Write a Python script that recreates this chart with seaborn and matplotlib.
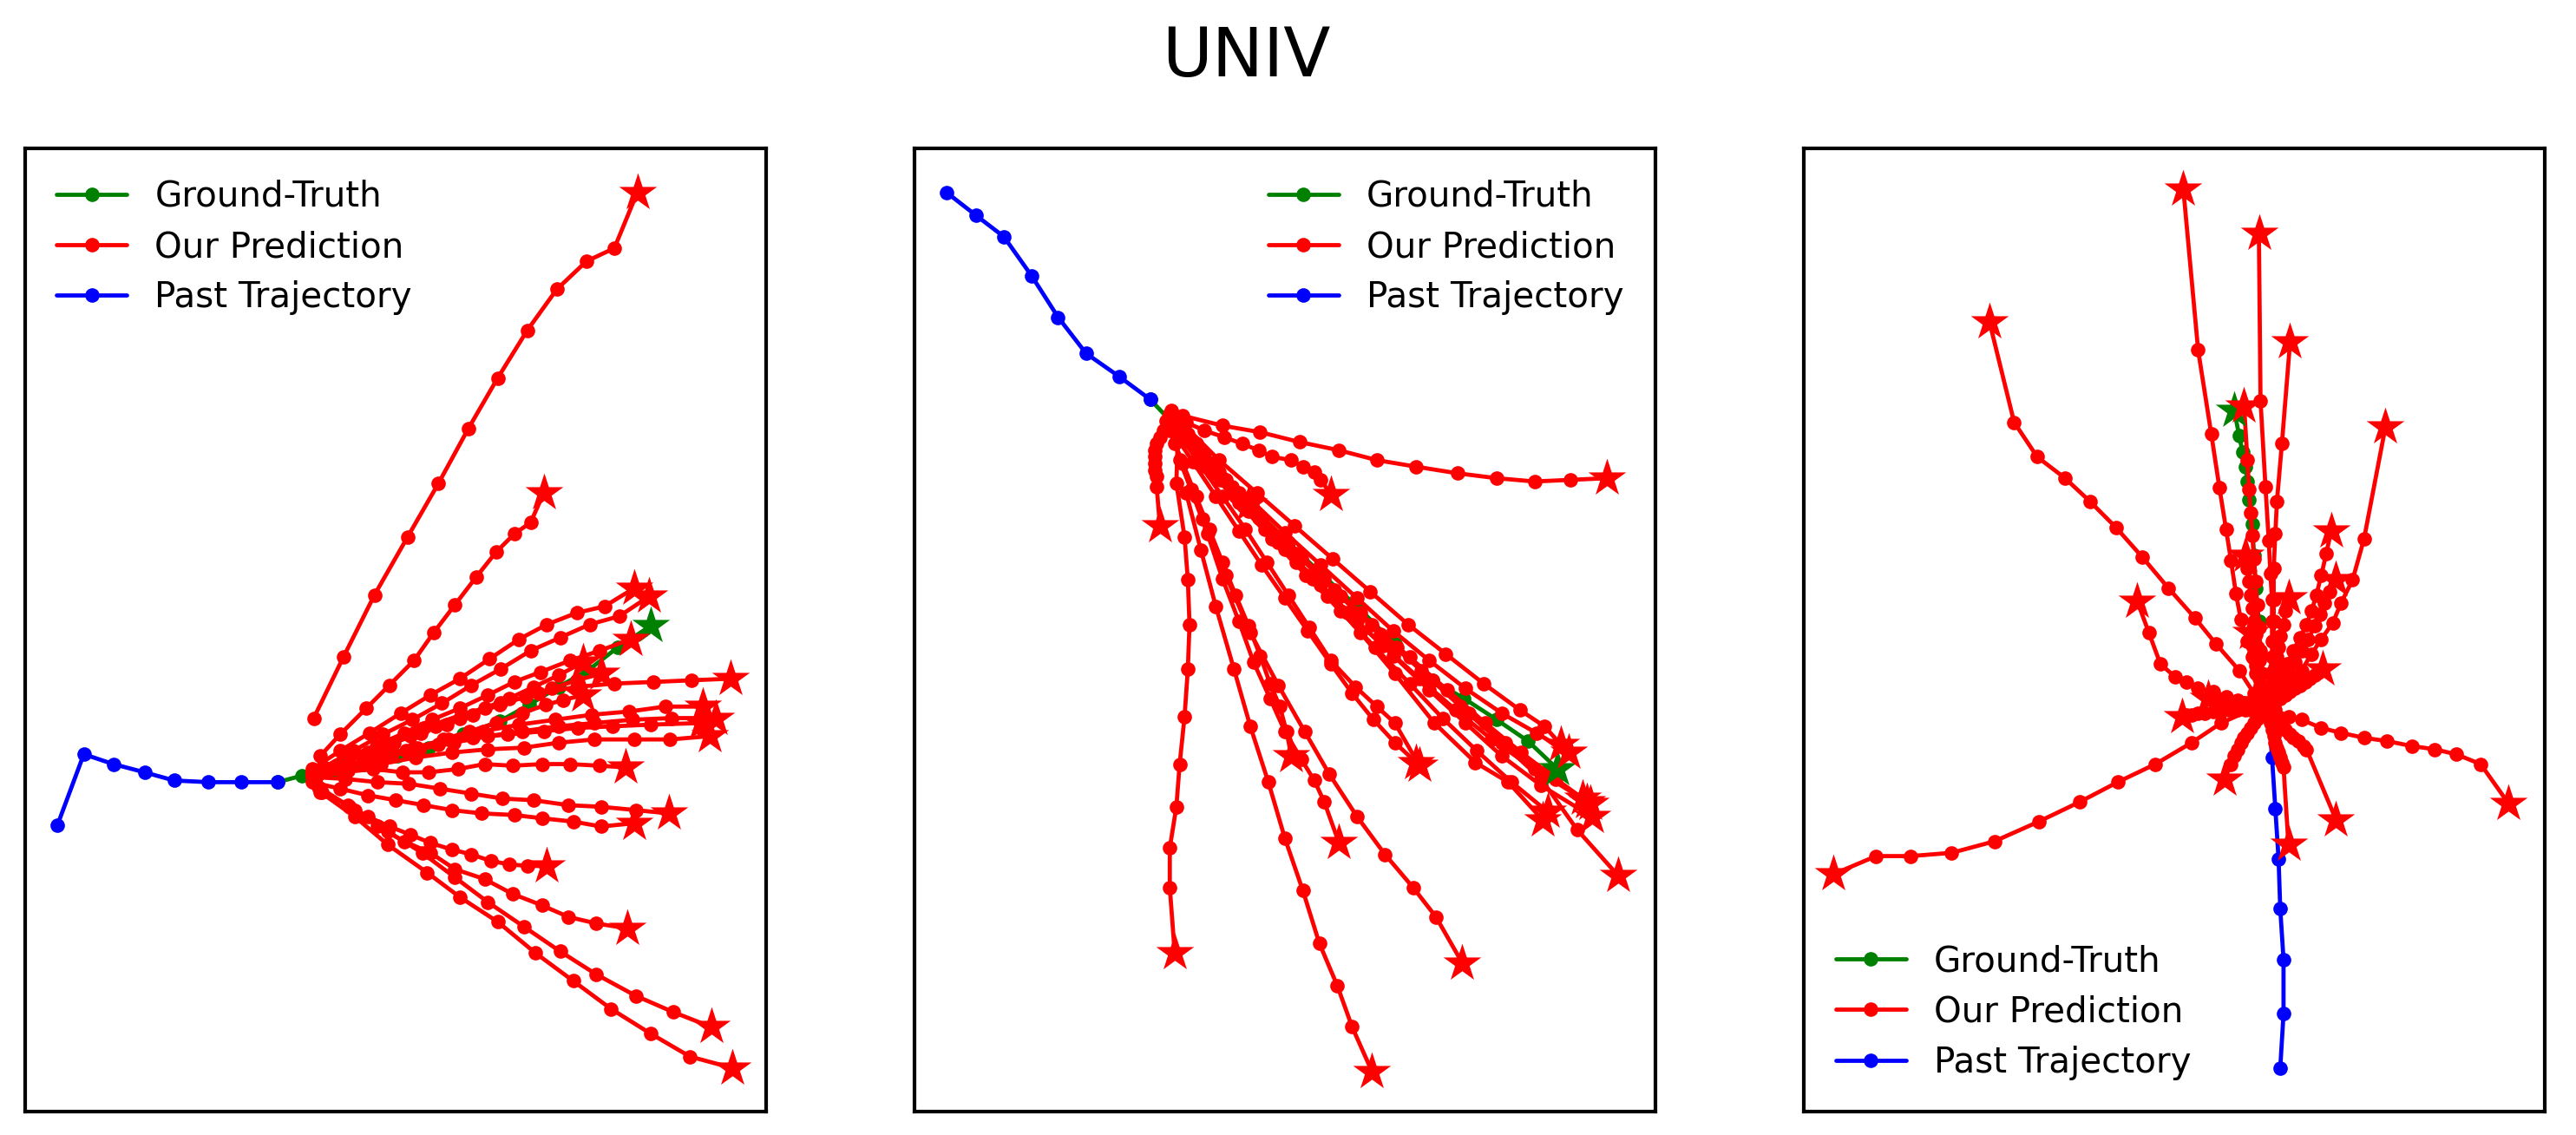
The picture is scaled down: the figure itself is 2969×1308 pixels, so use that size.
import matplotlib
matplotlib.use("Agg")
import matplotlib.pyplot as plt
import seaborn as sns
import pandas as pd
from matplotlib.lines import Line2D

# ---------------- data (image-pixel units, y grows downward) ----------------
P1_PAST = [(35,502),(51,459),(69,465),(88,470),(106,475),(127,476),(147,476),(169,476)]
P1_GT = [(169,476),(184,472),(203,469),(222,465),(242,460),(261,455),(282,447),
         (304,439),(322,429),(340,418),(358,408),(376,394),(396,381)]
P1_PRED = [
    [(191,437),(209,400),(228,362),(248,327),(267,294),(285,261),(303,230),(321,201),(339,176),(357,159),(374,151),(388,117)],
    [(195,460),(207,447),(223,431),(237,417),(252,402),(264,385),(277,368),(290,351),(302,336),(313,325),(323,318),(331,300)],
    [(190,468),(207,457),(225,446),(244,434),(262,423),(280,413),(298,401),(316,389),(333,380),(351,373),(368,369),(386,358)],
    [(197,467),(215,457),(233,447),(251,438),(269,428),(287,417),(305,407),(323,396),(341,388),(359,380),(377,375),(395,363)],
    [(195,470),(212,462),(229,454),(246,446),(263,438),(280,431),(297,423),(313,415),(329,409),(347,402),(365,396),(384,389)],
    [(190,472),(205,466),(220,460),(235,454),(250,448),(265,442),(280,437),(295,431),(310,425),(325,418),(340,411),(355,403)],
    [(190,472),(206,468),(222,464),(238,460),(254,455),(270,450),(286,445),(302,440),(318,434),(332,429),(343,426),(355,423)],
    [(190,470),(212,462),(235,452),(258,443),(281,435),(305,428),(328,422),(351,418),(374,416),(398,415),(421,414),(445,413)],
    [(190,472),(210,466),(231,460),(252,455),(273,450),(294,445),(316,441),(338,438),(360,435),(383,433),(405,430),(428,430)],
    [(192,473),(212,469),(232,465),(253,461),(275,458),(297,456),(319,455),(340,452),(362,450),(386,450),(408,450),(432,448)],
    [(190,472),(208,467),(227,462),(247,457),(267,453),(288,449),(309,447),(331,445),(352,443),(373,442),(396,441),(427,440)],
    [(192,471),(213,466),(234,461),(255,456),(276,452),(297,448),(318,445),(340,442),(362,440),(385,438),(409,437),(436,437)],
    [(192,472),(209,470),(227,468),(245,470),(261,470),(279,468),(295,465),(312,466),(330,465),(347,465),(365,466),(381,467)],
    [(192,473),(210,474),(230,476),(249,477),(268,480),(287,483),(306,486),(325,487),(346,490),(366,491),(387,493),(407,495)],
    [(190,476),(207,480),(224,484),(241,487),(258,490),(275,493),(293,495),(313,496),(330,498),(349,500),(366,503),(386,501)],
    [(196,482),(212,490),(224,497),(237,503),(250,508),(262,513),(275,517),(287,520),(299,524),(310,526),(321,527),(333,527)],
    [(194,479),(213,491),(230,503),(246,512),(262,519),(277,529),(295,535),(312,544),(330,551),(346,558),(363,562),(382,565)],
    [(195,480),(216,493),(236,506),(257,519),(277,534),(297,549),(319,564),(341,579),(363,593),(387,606),(410,616),(433,625)],
    [(195,482),(216,497),(236,514),(260,531),(280,546),(303,561),(326,580),(349,597),(372,614),(396,629),(420,643),(446,650)],
    [(192,470),(208,464),(224,458),(240,452),(256,446),(272,441),(288,435),(304,429),(320,424),(336,419),(351,414),(366,410)],
]

P2_PAST = [(576,117),(594,131),(611,144),(628,168),(644,193),(661,215),(681,229),(700,243)]
P2_GT = [(700,243),(718,262),(736,283),(759,305),(781,327),(804,349),(827,370),
         (849,392),(872,414),(891,425),(911,438),(930,451),(948,468)]
P2_PRED = [
    [(720,253),(744,259),(767,263),(791,269),(815,274),(838,280),(862,284),(887,288),(911,291),(934,293),(956,292),(978,291)],
    [(712,252),(722,257),(733,262),(745,266),(756,270),(766,274),(774,278),(786,280),(793,284),(800,287),(804,292),(810,301)],
    [(713,250),(710,256),(708,262),(706,266),(704,270),(703,274),(703,278),(703,282),(703,286),(704,290),(704,296),(706,320)],
    [(717,262),(716,294),(721,327),(723,353),(724,380),(723,407),(721,436),(718,465),(716,491),(712,516),(712,540),(715,580)],
    [(722,300),(731,335),(740,369),(751,407),(761,442),(772,476),(782,510),(793,542),(803,574),(814,600),(823,625),(835,652)],
    [(718,280),(732,316),(746,350),(761,385),(778,417),(794,445),(809,471),(826,497),(843,520),(860,540),(874,558),(890,586)],
    [(715,270),(725,298),(735,325),(744,352),(754,378),(763,403),(773,425),(782,445),(792,462),(800,475),(806,488),(815,513)],
    [(712,262),(720,282),(728,302),(736,322),(744,342),(752,362),(760,381),(767,399),(773,416),(779,430),(783,445),(786,460)],
    [(716,262),(730,282),(744,302),(758,322),(771,342),(784,362),(797,382),(810,402),(825,418),(838,430),(849,440),(864,466)],
    [(716,262),(734,282),(752,302),(770,322),(789,342),(808,363),(828,385),(849,410),(873,440),(898,464),(918,476),(939,499)],
    [(720,265),(744,291),(768,316),(792,340),(816,363),(840,386),(865,408),(889,430),(914,452),(938,474),(960,505),(985,533)],
    [(720,258),(742,280),(765,300),(788,320),(811,340),(834,360),(857,380),(880,398),(903,416),(925,432),(940,442),(950,453)],
    [(718,262),(740,285),(762,308),(784,330),(806,352),(828,373),(850,394),(872,414),(894,434),(916,452),(940,470),(968,489)],
    [(716,264),(738,288),(760,311),(782,334),(804,356),(826,378),(848,399),(870,420),(892,440),(914,460),(938,478),(969,497)],
    [(713,252),(718,258),(723,264),(728,270),(733,276),(738,282),(742,287),(746,292),(750,296),(754,300),(757,303),(760,307)],
    [(716,260),(738,282),(760,303),(782,324),(804,344),(826,364),(848,384),(870,402),(892,419),(914,434),(935,446),(955,458)],
    [(714,262),(734,284),(754,306),(774,328),(795,350),(816,372),(837,394),(858,416),(878,437),(899,457),(920,476),(942,494)],
    [(715,262),(736,285),(757,308),(778,330),(799,352),(820,373),(842,393),(864,413),(886,432),(908,450),(934,468),(963,486)],
    [(712,260),(726,281),(740,302),(754,323),(768,344),(782,364),(796,384),(810,404),(823,422),(836,438),(849,452),(862,464)],
    [(720,268),(743,292),(766,315),(789,337),(812,359),(835,380),(858,400),(881,420),(904,440),(926,458),(947,474),(966,488)],
]

P3_PAST = [(1388,650),(1390,617),(1390,584),(1388,553),(1387,523),(1385,492),(1383,461),(1381,435)]
P3_GT = [(1381,435),(1378,418),(1376,398),(1375,378),(1373,358),(1372,338),(1371,319),
         (1369,304),(1368,293),(1367,284),(1365,275),(1363,265),(1360,250)]
P3_PRED = [
    [(1370,432),(1352,440),(1334,452),(1312,465),(1289,476),(1266,488),(1241,500),(1214,512),(1188,519),(1163,521),(1142,521),(1116,532)],
    [(1385,432),(1393,436),(1401,438),(1413,443),(1425,446),(1439,449),(1453,451),(1468,454),(1482,456),(1495,459),(1510,465),(1527,489)],
    [(1372,422),(1363,408),(1349,392),(1336,376),(1320,358),(1304,339),(1288,321),(1272,305),(1257,291),(1240,278),(1226,257),(1211,196)],
    [(1375,420),(1373,410),(1371,400),(1368,390),(1364,377),(1361,361),(1358,341),(1355,322),(1351,297),(1346,264),(1338,213),(1329,115)],
    [(1380,425),(1381,418),(1382,410),(1383,400),(1383,390),(1383,378),(1383,365),(1382,349),(1381,329),(1379,296),(1376,244),(1375,142)],
    [(1381,426),(1382,418),(1383,410),(1384,400),(1384,390),(1384,378),(1384,365),(1384,346),(1385,325),(1386,305),(1389,270),(1394,208)],
    [(1380,430),(1383,426),(1390,420),(1396,414),(1401,408),(1407,398),(1413,389),(1420,379),(1425,367),(1432,353),(1439,328),(1452,260)],
    [(1380,428),(1384,420),(1388,412),(1392,404),(1396,396),(1400,388),(1404,380),(1407,372),(1410,362),(1413,350),(1416,337),(1419,323)],
    [(1381,428),(1385,422),(1389,416),(1393,410),(1397,403),(1401,396),(1405,389),(1409,381),(1412,374),(1415,367),(1418,360),(1422,353)],
    [(1378,425),(1377,418),(1376,410),(1375,402),(1374,394),(1373,386),(1372,378),(1371,370),(1370,362),(1369,354),(1368,346),(1367,338)],
    [(1378,424),(1377,410),(1376,396),(1375,382),(1374,368),(1373,354),(1372,340),(1371,326),(1370,312),(1369,298),(1368,280),(1366,247)],
    [(1378,430),(1371,429),(1366,428),(1362,426),(1355,424),(1347,421),(1338,419),(1331,415),(1324,412),(1315,404),(1308,385),(1301,366)],
    [(1380,428),(1381,424),(1382,420),(1383,416),(1384,411),(1385,406),(1386,400),(1387,394),(1388,387),(1390,380),(1391,372),(1393,364)],
    [(1376,432),(1372,432),(1367,432),(1362,432),(1357,432),(1352,433),(1347,433),(1342,434),(1338,434),(1334,435),(1331,435),(1328,436)],
    [(1378,430),(1376,434),(1374,437),(1372,440),(1370,443),(1368,446),(1366,449),(1364,452),(1362,456),(1360,460),(1358,465),(1354,474)],
    [(1381,430),(1383,433),(1385,436),(1387,439),(1389,442),(1391,444),(1394,447),(1396,449),(1399,451),(1402,454),(1404,456),(1422,499)],
    [(1380,432),(1381,436),(1382,440),(1383,444),(1384,448),(1385,452),(1386,455),(1387,458),(1388,461),(1389,464),(1390,467),(1393,514)],
    [(1379,429),(1378,425),(1377,421),(1376,417),(1375,413),(1374,409),(1373,405),(1372,401),(1372,397),(1371,393),(1371,389),(1370,385)],
    [(1382,429),(1385,427),(1388,425),(1391,423),(1394,421),(1397,419),(1400,417),(1403,415),(1406,413),(1409,411),(1411,409),(1414,407)],
    [(1377,431),(1374,430),(1371,429),(1368,428),(1365,428),(1362,427),(1359,427),(1356,426),(1353,426),(1350,426),(1347,425),(1344,425)],
]

PANEL_XLIM = [(15.2, 466.3), (556.6, 1007.6), (1098.1, 1549.2)]
PANEL_YLIM = (676.6, 90.0)
LEGEND_LOC = ["upper left", "upper right", "lower left"]
LABELS = ["Ground-Truth", "Our Prediction", "Past Trajectory"]
TITLE = "UNIV"

# ---------------- styling ----------------
sns.set_style("white")
plt.rcParams["font.family"] = ["DejaVu Sans"]
plt.rcParams["font.size"] = 10
plt.rcParams["text.color"] = "black"
plt.rcParams["axes.edgecolor"] = "black"
plt.rcParams["axes.linewidth"] = 1.0

LW = 1.15
MS = 4
STAR_S = 11 ** 2
LEG_FS = 9.7

fig = plt.figure(figsize=(2969 / 300, 1308 / 300), dpi=300)
lefts = [28.8 / 2969, 1054.0 / 2969, 2079.3 / 2969]
w = 854.0 / 2969
b = 1 - 1281.2 / 1308
h = (1281.2 - 170.5) / 1308


def to_df(trajs):
    rows = []
    for i, t in enumerate(trajs):
        for j, (x, y) in enumerate(t):
            rows.append({"x": x, "y": y, "traj": i, "step": j})
    return pd.DataFrame(rows)


def draw_line(ax, trajs, color, z):
    df = to_df(trajs)
    sns.lineplot(data=df, x="x", y="y", units="traj", estimator=None, sort=False,
                 color=color, marker="o", markersize=MS, markeredgecolor=color,
                 markeredgewidth=0, linewidth=LW, ax=ax, legend=False, zorder=z)


def draw_stars(ax, trajs, color):
    ends = pd.DataFrame({"x": [t[-1][0] for t in trajs], "y": [t[-1][1] for t in trajs]})
    sns.scatterplot(data=ends, x="x", y="y", marker="*", s=STAR_S, color=color,
                    edgecolor=color, linewidth=0, ax=ax, legend=False, zorder=3)


panels = [(P1_PAST, P1_GT, P1_PRED), (P2_PAST, P2_GT, P2_PRED), (P3_PAST, P3_GT, P3_PRED)]
for k, (past, gt, pred) in enumerate(panels):
    ax = fig.add_axes([lefts[k], b, w, h])
    draw_line(ax, [gt], "green", 2)
    draw_line(ax, [past], "blue", 2.1)
    draw_line(ax, pred, "red", 2.2)
    draw_stars(ax, [gt], "green")
    draw_stars(ax, pred, "red")
    ax.set_xlim(*PANEL_XLIM[k])
    ax.set_ylim(*PANEL_YLIM)
    ax.set_xticks([])
    ax.set_yticks([])
    ax.set_xlabel("")
    ax.set_ylabel("")
    for s in ax.spines.values():
        s.set_visible(True)
        s.set_color("black")
        s.set_linewidth(1.0)
    handles = [Line2D([], [], color=c, marker="o", markersize=MS, markeredgewidth=0, linewidth=LW)
               for c in ("green", "red", "blue")]
    leg = ax.legend(handles, LABELS, loc=LEGEND_LOC[k], frameon=False, fontsize=LEG_FS,
                    labelspacing=0.45)
    for t in leg.get_texts():
        t.set_color("black")

fig.text(1436 / 2969, 1 - 88 / 1308, TITLE, ha="center", va="baseline", fontsize=19,
         color="black")
fig.savefig("out.png", dpi=300)
